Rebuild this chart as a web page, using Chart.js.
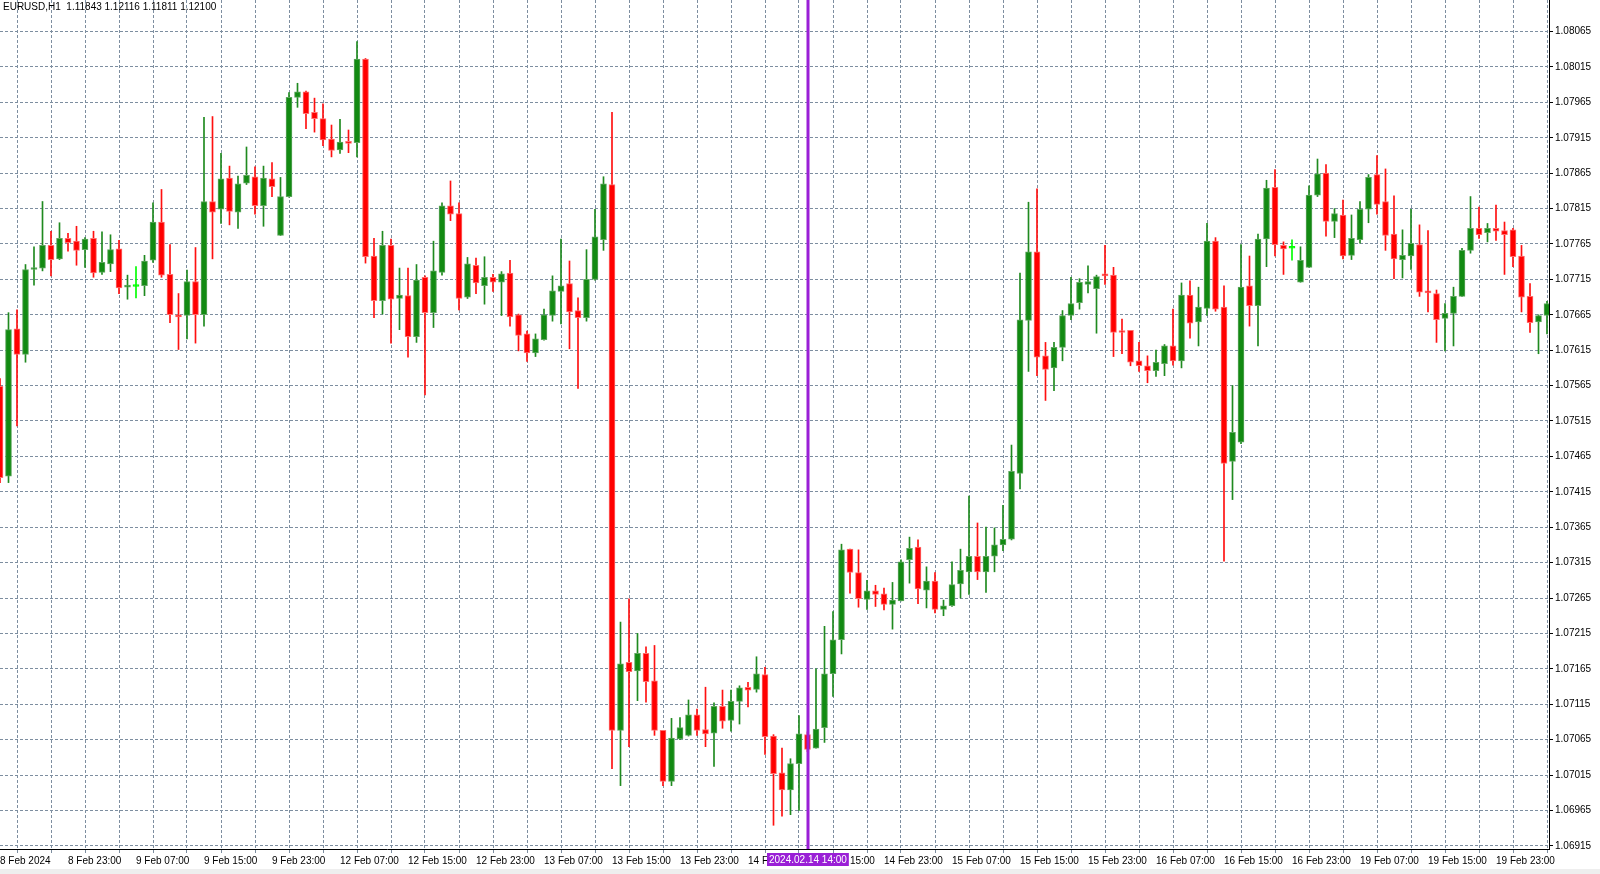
<!DOCTYPE html>
<html><head><meta charset="utf-8">
<script src="https://cdn.jsdelivr.net/npm/chart.js@4.4.1/dist/chart.umd.min.js"></script>
<style>html,body{margin:0;padding:0;background:#fff;overflow:hidden}</style>
</head><body>
<canvas id="c" width="1600" height="874"></canvas>
<script>
const header = 'EURUSD,H1  1.11843 1.12116 1.11811 1.12100';
const markerIndex = 95;
const markerLabel = '2024.02.14 14:00';

const timeLabels = ['8 Feb 2024','8 Feb 23:00','9 Feb 07:00','9 Feb 15:00','9 Feb 23:00','12 Feb 07:00','12 Feb 15:00','12 Feb 23:00','13 Feb 07:00','13 Feb 15:00','13 Feb 23:00','14 Feb 07:00','14 Feb 15:00','14 Feb 23:00','15 Feb 07:00','15 Feb 15:00','15 Feb 23:00','16 Feb 07:00','16 Feb 15:00','16 Feb 23:00','19 Feb 07:00','19 Feb 15:00','19 Feb 23:00'];

const priceTicks = ['1.06915','1.06965','1.07015','1.07065','1.07115','1.07165','1.07215','1.07265','1.07315','1.07365','1.07415','1.07465','1.07515','1.07565','1.07615','1.07665','1.07715','1.07765','1.07815','1.07865','1.07915','1.07965','1.08015','1.08065'];

const opens = [1.07564,1.07437,1.07645,1.07609,1.07729,1.07731,1.07763,1.07744,1.07773,1.07769,
1.07757,1.07773,1.07725,1.07737,1.07758,1.07704,1.07705,1.07706,1.07742,1.07796,
1.07722,1.07665,1.07664,1.07712,1.07665,1.07825,1.07814,1.07858,1.07810,1.07851,
1.07860,1.07819,1.07857,1.07777,1.07832,1.07972,1.07980,1.07951,1.07942,1.07913,
1.07898,1.07909,1.07908,1.08026,1.07748,1.07685,1.07763,1.07688,1.07692,1.07634,
1.07718,1.07668,1.07725,1.07819,1.07808,1.07690,1.07735,1.07706,1.07718,1.07711,
1.07724,1.07665,1.07638,1.07611,1.07630,1.07664,1.07698,1.07709,1.07671,1.07661,
1.07715,1.07771,1.07849,1.07078,1.07174,1.07162,1.07187,1.07148,1.07078,1.07006,
1.07066,1.07071,1.07100,1.07079,1.07074,1.07112,1.07092,1.07119,1.07139,1.07136,
1.07157,1.07070,1.07018,1.06994,1.07031,1.07072,1.07053,1.07082,1.07158,1.07206,
1.07334,1.07301,1.07263,1.07275,1.07271,1.07256,1.07261,1.07319,1.07337,1.07276,
1.07289,1.07249,1.07254,1.07285,1.07302,1.07324,1.07302,1.07324,1.07340,1.07348,
1.07441,1.07657,1.07754,1.07607,1.07590,1.07619,1.07664,1.07682,1.07708,1.07702,
1.07722,1.07721,1.07642,1.07643,1.07600,1.07593,1.07586,1.07596,1.07621,1.07600,
1.07693,1.07655,1.07674,1.07769,1.07676,1.07458,1.07485,1.07706,1.07678,1.07772,
1.07845,1.07763,1.07759,1.07711,1.07732,1.07834,1.07865,1.07797,1.07806,1.07749,
1.07771,1.07814,1.07863,1.07825,1.07779,1.07743,1.07748,1.07764,1.07698,1.07695,
1.07660,1.07667,1.07691,1.07756,1.07787,1.07781,1.07787,1.07784,1.07785,1.07748,
1.07691,1.07655,1.07664];

const highs = [1.07575,1.07668,1.07672,1.07736,1.07761,1.07825,1.07783,1.07795,1.07780,1.07790,
1.07774,1.07783,1.07782,1.07778,1.07770,1.07721,1.07733,1.07749,1.07823,1.07842,
1.07764,1.07695,1.07728,1.07760,1.07944,1.07945,1.07893,1.07875,1.07861,1.07902,
1.07874,1.07875,1.07880,1.07859,1.07979,1.07992,1.07981,1.07971,1.07963,1.07933,
1.07941,1.07926,1.08051,1.08027,1.07773,1.07783,1.07772,1.07731,1.07731,1.07736,
1.07720,1.07769,1.07823,1.07854,1.07823,1.07746,1.07745,1.07747,1.07722,1.07726,
1.07742,1.07666,1.07642,1.07638,1.07673,1.07720,1.07772,1.07741,1.07689,1.07757,
1.07814,1.07860,1.07951,1.07231,1.07264,1.07215,1.07196,1.07198,1.07078,1.07095,
1.07096,1.07121,1.07108,1.07139,1.07117,1.07135,1.07135,1.07141,1.07146,1.07182,
1.07167,1.07072,1.07053,1.07038,1.07099,1.07076,1.07165,1.07225,1.07246,1.07341,
1.07334,1.07333,1.07290,1.07283,1.07279,1.07287,1.07319,1.07351,1.07347,1.07309,
1.07301,1.07262,1.07316,1.07334,1.07409,1.07371,1.07365,1.07364,1.07396,1.07481,
1.07724,1.07824,1.07843,1.07626,1.07626,1.07671,1.07718,1.07716,1.07734,1.07721,
1.07763,1.07732,1.07659,1.07643,1.07626,1.07607,1.07615,1.07623,1.07673,1.07710,
1.07713,1.07704,1.07794,1.07774,1.07706,1.07565,1.07764,1.07748,1.07779,1.07855,
1.07870,1.07768,1.07771,1.07761,1.07847,1.07885,1.07877,1.07815,1.07827,1.07806,
1.07825,1.07863,1.07890,1.07871,1.07833,1.07785,1.07814,1.07792,1.07784,1.07700,
1.07681,1.07704,1.07759,1.07832,1.07817,1.07794,1.07820,1.07796,1.07787,1.07763,
1.07709,1.07665,1.07684];

const lows = [1.07428,1.07428,1.07508,1.07598,1.07707,1.07727,1.07720,1.07743,1.07755,1.07735,
1.07732,1.07718,1.07722,1.07726,1.07695,1.07687,1.07689,1.07692,1.07739,1.07718,
1.07654,1.07616,1.07631,1.07625,1.07649,1.07744,1.07794,1.07792,1.07787,1.07849,
1.07807,1.07790,1.07832,1.07777,1.07831,1.07958,1.07928,1.07923,1.07904,1.07888,
1.07893,1.07894,1.07888,1.07738,1.07661,1.07666,1.07625,1.07644,1.07605,1.07626,
1.07552,1.07647,1.07721,1.07798,1.07672,1.07688,1.07695,1.07680,1.07698,1.07664,
1.07649,1.07614,1.07599,1.07606,1.07629,1.07656,1.07652,1.07617,1.07561,1.07656,
1.07714,1.07756,1.07024,1.07000,1.07055,1.07120,1.07118,1.07071,1.07000,1.07000,
1.07065,1.07070,1.07071,1.07055,1.07027,1.07081,1.07077,1.07087,1.07111,1.07132,
1.07044,1.06944,1.06957,1.06959,1.06965,1.07048,1.07053,1.07061,1.07126,1.07186,
1.07272,1.07252,1.07249,1.07253,1.07248,1.07221,1.07261,1.07286,1.07257,1.07251,
1.07244,1.07240,1.07253,1.07265,1.07270,1.07291,1.07273,1.07302,1.07332,1.07347,
1.07419,1.07585,1.07579,1.07544,1.07558,1.07600,1.07658,1.07673,1.07696,1.07639,
1.07708,1.07606,1.07610,1.07593,1.07585,1.07569,1.07578,1.07579,1.07594,1.07590,
1.07632,1.07621,1.07664,1.07670,1.07317,1.07404,1.07483,1.07649,1.07621,1.07733,
1.07748,1.07722,1.07742,1.07711,1.07732,1.07832,1.07776,1.07774,1.07744,1.07743,
1.07766,1.07795,1.07807,1.07756,1.07716,1.07717,1.07729,1.07691,1.07669,1.07626,
1.07614,1.07621,1.07691,1.07752,1.07773,1.07768,1.07770,1.07722,1.07733,1.07669,
1.07640,1.07610,1.07638];

const closes = [1.07435,1.07644,1.07609,1.07729,1.07731,1.07763,1.07743,1.07773,1.07767,1.07756,
1.07772,1.07724,1.07739,1.07757,1.07703,1.07705,1.07705,1.07741,1.07796,1.07721,
1.07665,1.07662,1.07712,1.07665,1.07825,1.07810,1.07857,1.07811,1.07850,1.07862,
1.07819,1.07858,1.07846,1.07832,1.07972,1.07980,1.07949,1.07942,1.07912,1.07897,
1.07909,1.07907,1.08026,1.07747,1.07685,1.07763,1.07687,1.07693,1.07634,1.07714,
1.07668,1.07727,1.07819,1.07807,1.07688,1.07737,1.07710,1.07718,1.07711,1.07723,
1.07662,1.07636,1.07611,1.07631,1.07665,1.07699,1.07706,1.07669,1.07661,1.07715,
1.07775,1.07850,1.07078,1.07172,1.07161,1.07187,1.07147,1.07078,1.07006,1.07067,
1.07082,1.07100,1.07078,1.07073,1.07112,1.07091,1.07119,1.07138,1.07135,1.07158,
1.07069,1.07017,1.06994,1.07031,1.07073,1.07051,1.07080,1.07158,1.07206,1.07333,
1.07301,1.07264,1.07275,1.07270,1.07256,1.07262,1.07316,1.07335,1.07278,1.07289,
1.07249,1.07254,1.07284,1.07304,1.07324,1.07302,1.07324,1.07340,1.07348,1.07444,
1.07658,1.07754,1.07605,1.07588,1.07619,1.07664,1.07681,1.07711,1.07712,1.07719,
1.07720,1.07640,1.07640,1.07598,1.07593,1.07586,1.07598,1.07621,1.07600,1.07693,
1.07653,1.07676,1.07769,1.07673,1.07455,1.07499,1.07704,1.07678,1.07772,1.07844,
1.07764,1.07758,1.07759,1.07742,1.07834,1.07864,1.07797,1.07808,1.07748,1.07773,
1.07814,1.07859,1.07821,1.07777,1.07744,1.07749,1.07766,1.07697,1.07696,1.07658,
1.07667,1.07691,1.07756,1.07787,1.07778,1.07787,1.07783,1.07778,1.07747,1.07690,
1.07654,1.07664,1.07681];

const FONT = {family: '"Liberation Sans", Arial, sans-serif', size: 10};
const GRID = '#7d8ea0';

function dirOf(i) {
  if (opens[i] === closes[i]) return 0;
  return closes[i] > opens[i] ? 1 : -1;
}
const bodyFill = opens.map((o, i) => dirOf(i) === 0 ? '#00ff00' : dirOf(i) > 0 ? '#128a12' : '#ff0000');
const bodyEdge = opens.map((o, i) => dirOf(i) === 0 ? '#00ff00' : dirOf(i) > 0 ? '#5fa65f' : '#ff6e6e');
const wickCol = opens.map((o, i) => dirOf(i) === 0 ? '#00ff00' : dirOf(i) > 0 ? '#1f8a1f' : '#ff1010');

const bodyData = opens.map((o, i) => ({x: i, y: [o, closes[i]]}));
const wickData = lows.map((l, i) => ({x: i, y: [l, highs[i]]}));

const overlay = {
  id: 'overlay',
  beforeDraw(chart) {
    const ctx = chart.ctx;
    ctx.save();
    ctx.fillStyle = '#ffffff';
    ctx.fillRect(0, 0, chart.width, chart.height);
    ctx.fillStyle = '#eeeeee';
    ctx.fillRect(0, 869, chart.width, 5);
    ctx.restore();
  },
  afterDraw(chart) {
    const ctx = chart.ctx;
    const area = chart.chartArea;
    const px = chart.scales.x.getPixelForValue(markerIndex);
    ctx.save();
    ctx.fillStyle = '#9a1fd6';
    ctx.fillRect(Math.round(px) - 1.5, area.top, 3, area.bottom - area.top);
    ctx.font = '10px "Liberation Sans", Arial, sans-serif';
    const w = ctx.measureText(markerLabel).width + 4;
    ctx.fillRect(Math.round(px - w / 2), 853, w, 13);
    ctx.fillStyle = '#ffffff';
    ctx.textBaseline = 'middle';
    ctx.textAlign = 'left';
    ctx.fillText(markerLabel, Math.round(px - w / 2) + 2, 860);
    ctx.fillStyle = '#000000';
    ctx.fillText(header, 3, 7);
    ctx.restore();
  }
};

new Chart(document.getElementById('c'), {
  type: 'bar',
  data: {
    datasets: [
      {label: 'body', data: bodyData, backgroundColor: bodyFill, borderColor: bodyEdge,
       borderWidth: 1, borderSkipped: false, barThickness: 6, minBarLength: 2, grouped: false, order: 0},
      {label: 'wick', data: wickData, backgroundColor: wickCol, borderWidth: 0,
       barThickness: 1, grouped: false, order: 1}
    ]
  },
  options: {
    responsive: false,
    devicePixelRatio: 1,
    animation: false,
    events: [],
    layout: {padding: 0},
    plugins: {legend: {display: false}, tooltip: {enabled: false}, title: {display: false}},
    scales: {
      x: {
        type: 'linear', position: 'bottom', min: 0, max: 1549 / 8.5, offset: false,
        afterBuildTicks: s => { const t = []; for (let v = 0; v <= 180; v += 4) t.push({value: v}); s.ticks = t; },
        afterFit: s => { s.height = 25; s.paddingLeft = 0; s.paddingRight = 0; },
        ticks: {autoSkip: false, maxRotation: 0, minRotation: 0, align: 'start', padding: 2, color: '#000', font: FONT,
          callback: v => (v % 8 === 0 && timeLabels[v / 8] !== undefined) ? timeLabels[v / 8] : ''},
        grid: {color: GRID, lineWidth: 1, drawTicks: true, tickLength: 4, tickColor: GRID},
        border: {display: true, color: '#000', width: 1, dash: [3, 2]}
      },
      y: {
        type: 'linear', position: 'right', min: 1.069105, max: 1.081096,
        afterBuildTicks: s => { s.ticks = priceTicks.map(t => ({value: parseFloat(t)})); },
        afterFit: s => { s.width = 51; s.paddingTop = 0; s.paddingBottom = 0; },
        ticks: {padding: 2, color: '#000', font: FONT, callback: (v, idx) => priceTicks[idx]},
        grid: {color: GRID, lineWidth: 1, drawTicks: true, tickLength: 4, tickColor: '#000'},
        border: {display: true, color: '#000', width: 1, dash: [3, 2]}
      }
    }
  },
  plugins: [overlay]
});
</script>
</body></html>
